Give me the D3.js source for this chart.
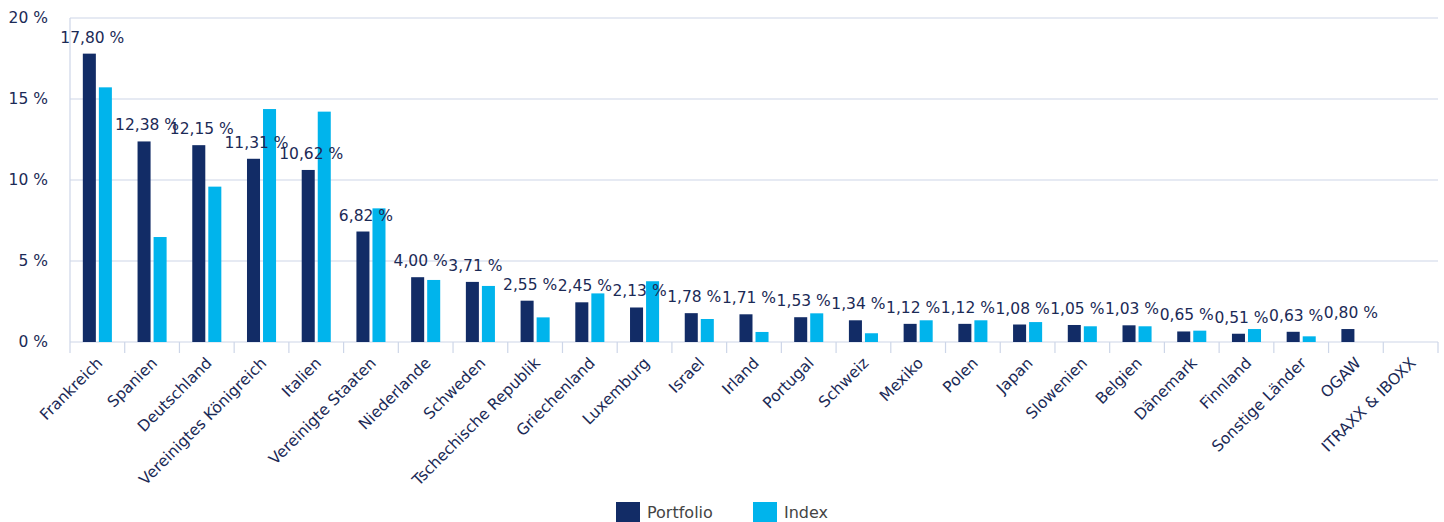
<!DOCTYPE html>
<html lang="de">
<head>
    <meta charset="UTF-8">
    <title>Länderallokation</title>
    <script src="https://d3js.org/d3.v7.min.js"></script>
</head>
<style>
    body { margin: 0; background: #fff; }
    svg text { font-family: "DejaVu Sans", Verdana, sans-serif; fill: #1b2a56; }
    .grid line { stroke: #cdd6e8; stroke-width: 1.2px; }
    .legend text { fill: #444; font-size: 16px; }
</style>
<body>
<div id="chart"></div>
<script>
  // Daten
  const categories = ["Frankreich", "Spanien", "Deutschland", "Vereinigtes Königreich", "Italien",
    "Vereinigte Staaten", "Niederlande", "Schweden", "Tschechische Republik", "Griechenland",
    "Luxemburg", "Israel", "Irland", "Portugal", "Schweiz", "Mexiko", "Polen", "Japan",
    "Slowenien", "Belgien", "Dänemark", "Finnland", "Sonstige Länder", "OGAW", "ITRAXX & IBOXX"];
  const portfolio = [17.80, 12.38, 12.15, 11.31, 10.62, 6.82, 4.00, 3.71, 2.55, 2.45, 2.13, 1.78,
    1.71, 1.53, 1.34, 1.12, 1.12, 1.08, 1.05, 1.03, 0.65, 0.51, 0.63, 0.80, null];
  const index = [15.72, 6.48, 9.59, 14.38, 14.22, 8.25, 3.83, 3.46, 1.52, 3.0, 3.75, 1.42,
    0.62, 1.77, 0.54, 1.34, 1.34, 1.23, 0.97, 0.97, 0.70, 0.80, 0.35, null, null];
  const yTicks = [0, 5, 10, 15, 20];
  const seriesNames = ["Portfolio", "Index"];
  const colors = ["#122c66", "#00b4ec"];

  const width = 1444, height = 522;
  const margin = { top: 18, right: 6, bottom: 180, left: 70 };
  const fmt = v => v.toFixed(2).replace(".", ",") + " %";

  const svg = d3.select("#chart").append("svg")
    .attr("width", width)
    .attr("height", height);

  const x0 = d3.scaleBand().domain(categories).range([margin.left, width - margin.right]);
  const x1 = d3.scaleBand().domain(seriesNames).range([0, x0.bandwidth()])
    .paddingInner(0.1875).paddingOuter(0.8);
  const y = d3.scaleLinear().domain([0, 20]).range([height - margin.bottom, margin.top]);

  // Gitterlinien
  svg.append("g").attr("class", "grid")
    .selectAll("line").data(yTicks).enter().append("line")
    .attr("x1", margin.left).attr("x2", width - margin.right)
    .attr("y1", d => y(d)).attr("y2", d => y(d));

  // linke Achse
  svg.append("line")
    .attr("x1", margin.left).attr("x2", margin.left)
    .attr("y1", margin.top).attr("y2", y(0) + 11)
    .attr("stroke", "#cdd6e8").attr("stroke-width", 1.2);

  // Ticks an x-Achse
  svg.append("g").attr("class", "grid")
    .selectAll("line").data(categories.slice(1).concat(["__end"])).enter().append("line")
    .attr("x1", (d, i) => x0(categories[0]) + x0.step() * (i + 1))
    .attr("x2", (d, i) => x0(categories[0]) + x0.step() * (i + 1))
    .attr("y1", y(0)).attr("y2", y(0) + 11);

  // y-Beschriftung
  svg.append("g").selectAll("text").data(yTicks).enter().append("text")
    .attr("x", 48).attr("y", d => y(d)).attr("dy", "0.35em")
    .attr("text-anchor", "end").style("font-size", "15.5px")
    .text(d => d + " %");

  // Balken
  const rows = categories.map((c, i) => ({ cat: c, vals: [portfolio[i], index[i]] }));
  const group = svg.append("g").selectAll("g").data(rows).enter().append("g")
    .attr("transform", d => `translate(${x0(d.cat)},0)`);

  group.selectAll("rect")
    .data(d => d.vals.map((v, k) => ({ key: seriesNames[k], v: v, k: k })).filter(e => e.v != null))
    .enter().append("rect")
    .attr("x", d => x1(d.key))
    .attr("width", x1.bandwidth())
    .attr("y", d => y(d.v))
    .attr("height", d => y(0) - y(d.v))
    .attr("fill", d => colors[d.k]);

  // Werte Portfolio
  svg.append("g").selectAll("text").data(rows.filter(d => d.vals[0] != null)).enter().append("text")
    .attr("x", d => x0(d.cat) + x1("Portfolio") + x1.bandwidth() / 2 + 3)
    .attr("y", d => y(d.vals[0]) - 11)
    .attr("text-anchor", "middle").style("font-size", "15.5px")
    .text(d => fmt(d.vals[0]));

  // x-Beschriftung
  svg.append("g").selectAll("text").data(categories).enter().append("text")
    .attr("transform", d => `translate(${x0(d) + x0.bandwidth() / 2 + 6},${y(0) + 22}) rotate(-45)`)
    .attr("text-anchor", "end").style("font-size", "15.5px")
    .text(d => d);

  // Legende
  const legend = svg.append("g").attr("class", "legend")
    .selectAll("g").data(seriesNames).enter().append("g")
    .attr("transform", (d, i) => `translate(${616 + i * 137},502)`);
  legend.append("rect").attr("width", 24).attr("height", 20).attr("fill", (d, i) => colors[i]);
  legend.append("text").attr("x", 31).attr("y", 16).text(d => d);
</script>
</body>
</html>
